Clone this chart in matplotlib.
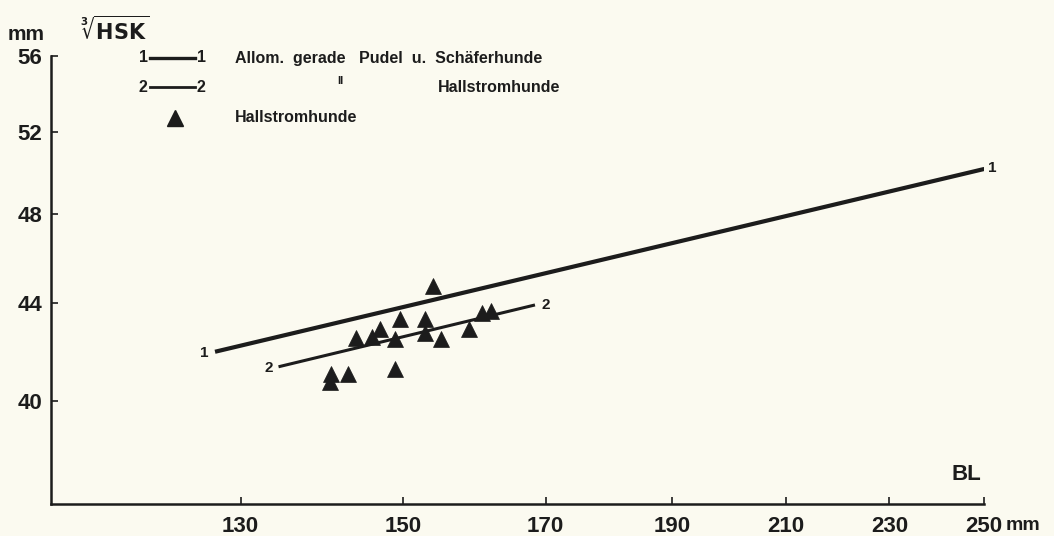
import matplotlib
matplotlib.use("Agg")
import matplotlib.pyplot as plt
from matplotlib.lines import Line2D
from matplotlib.ticker import NullLocator

# Hallstromhunde: body length (mm) vs cube root of skull capacity (mm)
bl_points = [153.9, 149.6, 152.9, 160.8, 162.0, 146.9, 145.9, 143.9,
             148.9, 152.9, 155.0, 158.9, 148.9, 140.8, 142.9, 140.6]
hsk_points = [44.75, 43.32, 43.33, 43.57, 43.67, 42.91, 42.59, 42.55,
              42.49, 42.76, 42.49, 42.90, 41.28, 41.07, 41.07, 40.74]

# allometric lines (end points)
line1_x = [127.1, 250.0]
line1_y = [41.97, 50.16]
line2_x = [134.4, 168.4]
line2_y = [41.36, 43.93]

x_ticks = [130, 150, 170, 190, 210, 230, 250]
y_ticks = [40, 44, 48, 52, 56]

INK = "#1c1c1c"
BG = "#fbfaf0"
W, H = 1054, 536

plt.rcParams["font.family"] = ["Liberation Sans", "DejaVu Sans"]
plt.rcParams["font.weight"] = "bold"

fig = plt.figure(figsize=(10.54, 5.36), dpi=100, facecolor=BG)
ax = fig.add_axes([50.7 / W, 1 - 504 / H, (984.3 - 50.7) / W, (504 - 56) / H])
ax.set_facecolor(BG)

ax.set_xscale("log")
ax.set_yscale("log")
ax.set_xlim(110, 250)
ax.set_ylim(36.18, 56)

ax.plot(line1_x, line1_y, color=INK, lw=3.0, solid_capstyle="butt", zorder=2)
ax.plot(line2_x, line2_y, color=INK, lw=2.2, solid_capstyle="butt", zorder=2)
ax.plot(bl_points, hsk_points, "^", color=INK, ms=12, mec=INK, mew=0.5,
        zorder=3, clip_on=False)

# end labels for the lines
lab = dict(color=INK, fontsize=11, fontweight="bold", va="center",
           textcoords="offset points", annotation_clip=False)
ax.annotate("1", (line1_x[0], line1_y[0]), xytext=(-5, -1), ha="right", **lab)
ax.annotate("1", (line1_x[1], line1_y[1]), xytext=(3, 1), ha="left", **lab)
ax.annotate("2", (line2_x[0], line2_y[0]), xytext=(-4, -1), ha="right", **lab)
ax.annotate("2", (line2_x[1], line2_y[1]), xytext=(5, 0), ha="left", **lab)

# axes styling
for side in ["top", "right"]:
    ax.spines[side].set_visible(False)
for side in ["left", "bottom"]:
    ax.spines[side].set_linewidth(1.8)
    ax.spines[side].set_color(INK)

ax.xaxis.set_minor_locator(NullLocator())
ax.yaxis.set_minor_locator(NullLocator())
ax.set_xticks(x_ticks, [str(t) for t in x_ticks])
ax.set_yticks(y_ticks, [str(t) for t in y_ticks])
ax.tick_params(axis="x", direction="in", length=5, width=1.2, colors=INK,
               pad=9, labelsize=16)
ax.tick_params(axis="y", direction="in", length=5, width=1.2, colors=INK,
               pad=6, labelsize=16)
for t in ax.get_xticklabels() + ax.get_yticklabels():
    t.set_fontweight("bold")

# axis captions
fig.text(8 / W, 1 - 35 / H, "mm", fontsize=15, fontweight="bold", color=INK,
         va="center", ha="left")
fig.text(80 / W, 1 - 30 / H, r"$\sqrt[3]{\mathbf{HSK}}$", fontsize=15,
         color=INK, va="center", ha="left")
fig.text(966 / W, 1 - 474 / H, "BL", fontsize=16, fontweight="bold",
         color=INK, va="center", ha="center")
fig.text(1006 / W, 1 - 525 / H, "mm", fontsize=14, fontweight="bold",
         color=INK, va="center", ha="left")

# legend drawn by hand
def fig_line(x0, x1, y, lw):
    fig.add_artist(Line2D([x0 / W, x1 / W], [1 - y / H, 1 - y / H],
                          color=INK, lw=lw, transform=fig.transFigure))

leg = dict(fontsize=11.5, fontweight="bold", color=INK, va="center")
fig.text(143 / W, 1 - 58 / H, "1", ha="center", **leg)
fig_line(150, 195, 58, 2.4)
fig.text(201 / W, 1 - 58 / H, "1", ha="center", **leg)
fig.text(143 / W, 1 - 87 / H, "2", ha="center", **leg)
fig_line(150, 195, 87, 2.0)
fig.text(201 / W, 1 - 87 / H, "2", ha="center", **leg)
fig.add_artist(Line2D([175 / W], [1 - 118 / H], marker="^", ms=12,
                      color=INK, transform=fig.transFigure))

fig.text(235 / W, 1 - 58 / H, "Allom.  gerade   Pudel  u.  Schäferhunde",
         ha="left", **leg)
fig.text(340 / W, 1 - 81 / H, "ll", ha="center", fontsize=8,
         fontweight="bold", color=INK, va="center")
fig.text(438 / W, 1 - 87 / H, "Hallstromhunde", ha="left", **leg)
fig.text(235 / W, 1 - 118 / H, "Hallstromhunde", ha="left", **leg)

fig.savefig("out.png", dpi=100, facecolor=BG)
